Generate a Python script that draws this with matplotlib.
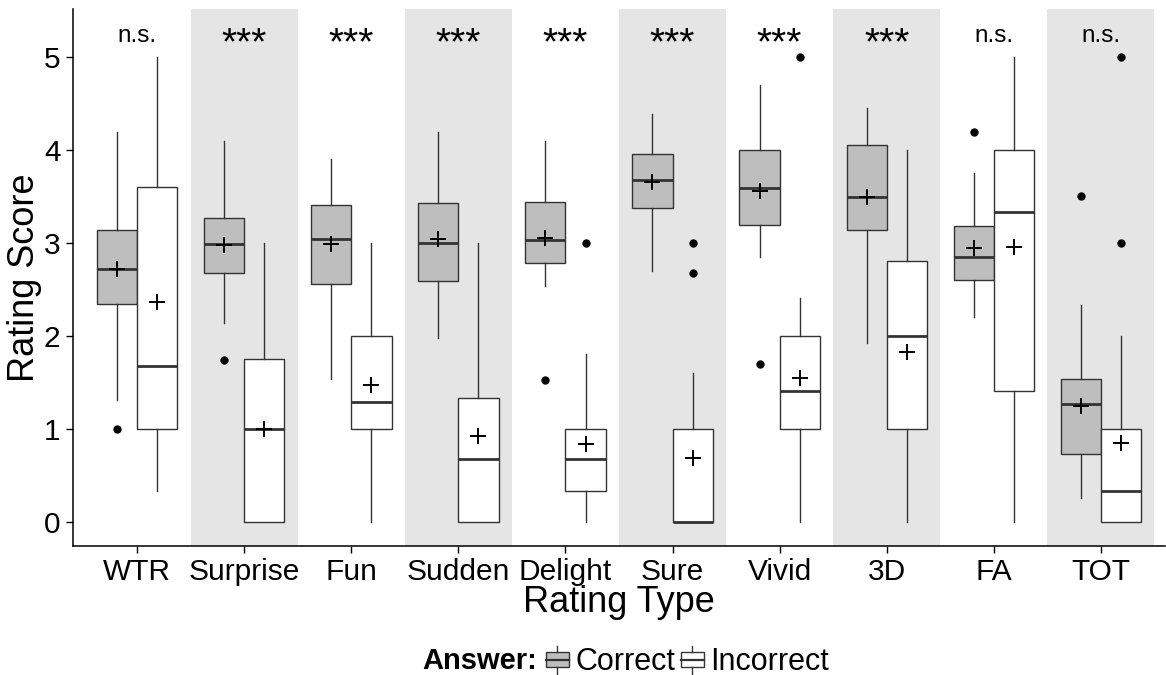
import numpy as np
import matplotlib
matplotlib.use('Agg')
import matplotlib.pyplot as plt
from matplotlib.patches import Rectangle, Patch
from matplotlib.lines import Line2D
from matplotlib.legend_handler import HandlerBase

plt.rcParams['font.family'] = ['Liberation Sans', 'DejaVu Sans']

# rating types on the x axis
categories = ['WTR', 'Surprise', 'Fun', 'Sudden', 'Delight',
              'Sure', 'Vivid', '3D', 'FA', 'TOT']
signif = ['n.s.', '***', '***', '***', '***', '***', '***', '***', 'n.s.', 'n.s.']

# box summaries, one entry per category
correct_q1 = [2.34, 2.67, 2.56, 2.59, 2.78, 3.37, 3.19, 3.14, 2.60, 0.73]
correct_med = [2.72, 2.98, 3.04, 3.00, 3.03, 3.67, 3.59, 3.49, 2.85, 1.26]
correct_q3 = [3.14, 3.27, 3.41, 3.43, 3.44, 3.95, 4.00, 4.05, 3.18, 1.53]
correct_lo = [1.31, 2.14, 1.53, 1.97, 2.53, 2.70, 2.85, 1.92, 2.20, 0.25]
correct_hi = [4.19, 4.09, 3.90, 4.19, 4.09, 4.38, 4.69, 4.45, 3.75, 2.33]
correct_mean = [2.72, 2.97, 2.98, 3.04, 3.05, 3.65, 3.55, 3.49, 2.94, 1.24]
correct_out = [[1.0], [1.74], [], [], [1.52], [], [1.70], [], [4.19], [3.50]]

incorrect_q1 = [1.00, 0.00, 1.00, 0.00, 0.33, 0.00, 1.00, 1.00, 1.40, 0.00]
incorrect_med = [1.67, 1.00, 1.29, 0.67, 0.67, 0.00, 1.40, 2.00, 3.33, 0.33]
incorrect_q3 = [3.60, 1.75, 2.00, 1.33, 1.00, 1.00, 2.00, 2.80, 4.00, 1.00]
incorrect_lo = [0.33, 0.00, 0.00, 0.00, 0.00, 0.00, 0.00, 0.00, 0.00, 0.00]
incorrect_hi = [5.00, 3.00, 3.00, 3.00, 1.80, 1.60, 2.40, 4.00, 5.00, 2.00]
incorrect_mean = [2.36, 1.00, 1.47, 0.92, 0.83, 0.68, 1.54, 1.82, 2.95, 0.85]
incorrect_out = [[], [], [], [], [3.0], [3.0, 2.67], [5.0], [], [], [5.0, 3.0]]

EDGE = '#333333'
FILL_CORRECT = '#BEBEBE'
FILL_INCORRECT = 'white'
BAND = '#E5E5E5'


def make_stats(q1, med, q3, lo, hi, mean, out):
    return [dict(q1=a, med=b, q3=c, whislo=d, whishi=e, mean=f, fliers=g)
            for a, b, c, d, e, f, g in zip(q1, med, q3, lo, hi, mean, out)]


class BoxKey(HandlerBase):
    '''Legend key drawn like a small boxplot.'''
    def create_artists(self, legend, orig_handle, xdescent, ydescent,
                       width, height, fontsize, trans):
        x0, y0 = -xdescent, -ydescent
        fc = orig_handle.get_facecolor()
        box = Rectangle((x0, y0 + 0.2 * height), width, 0.6 * height,
                        facecolor=fc, edgecolor=EDGE, lw=1.0, transform=trans)
        med = Line2D([x0, x0 + width], [y0 + 0.5 * height] * 2,
                     color=EDGE, lw=1.6, transform=trans)
        top = Line2D([x0 + width / 2] * 2, [y0 + 0.8 * height, y0 + 1.05 * height],
                     color=EDGE, lw=1.0, transform=trans)
        bot = Line2D([x0 + width / 2] * 2, [y0 - 0.05 * height, y0 + 0.2 * height],
                     color=EDGE, lw=1.0, transform=trans)
        return [box, med, top, bot]


fig = plt.figure(figsize=(11.66, 6.75), dpi=100)
ax = fig.add_axes([73 / 1166, 1 - 546 / 675, (1165 - 73) / 1166, (546 - 9) / 675])

pos = np.arange(1, len(categories) + 1)

# alternating background bands
for i in pos:
    if i % 2 == 0:
        ax.axvspan(i - 0.5, i + 0.5, color=BAND, lw=0, zorder=0)

common = dict(widths=0.375, showcaps=False, showmeans=True, patch_artist=True,
              whiskerprops=dict(color=EDGE, lw=1.0),
              medianprops=dict(color=EDGE, lw=2.0, solid_capstyle='butt'),
              meanprops=dict(marker='+', markersize=11, markeredgewidth=1.4,
                             markeredgecolor='black', markerfacecolor='black'),
              flierprops=dict(marker='o', markersize=5, markerfacecolor='black',
                              markeredgecolor='black'))

ax.bxp(make_stats(correct_q1, correct_med, correct_q3, correct_lo, correct_hi,
                  correct_mean, correct_out),
       positions=pos - 0.1875,
       boxprops=dict(facecolor=FILL_CORRECT, edgecolor=EDGE, lw=1.0), **common)
ax.bxp(make_stats(incorrect_q1, incorrect_med, incorrect_q3, incorrect_lo,
                  incorrect_hi, incorrect_mean, incorrect_out),
       positions=pos + 0.1875,
       boxprops=dict(facecolor=FILL_INCORRECT, edgecolor=EDGE, lw=1.0), **common)

for i, s in zip(pos, signif):
    if s == 'n.s.':
        ax.text(i, 5.155, s, ha='center', va='baseline', fontsize=17.5)
    else:
        ax.text(i, 5.03, s, ha='center', va='baseline', fontsize=28)

ax.set_xlim(0.4, 10.6)
ax.set_ylim(-0.2625, 5.5125)
ax.set_xticks(pos)
ax.set_xticklabels(categories)
ax.set_yticks([0, 1, 2, 3, 4, 5])
ax.tick_params(axis='both', labelsize=21.5, length=5, width=1.0, color='black', pad=4)
for side in ['top', 'right']:
    ax.spines[side].set_visible(False)
for side in ['left', 'bottom']:
    ax.spines[side].set_linewidth(1.1)
ax.set_xlabel('Rating Type', fontsize=26, labelpad=-1)
ax.set_ylabel('Rating Score', fontsize=26, labelpad=1)

fig.text(422 / 1166, 1 - 661 / 675, 'Answer:', fontsize=21, fontweight='bold',
         ha='left', va='center')
handles = [Patch(facecolor=FILL_CORRECT), Patch(facecolor=FILL_INCORRECT)]
fig.legend(handles, ['Correct', 'Incorrect'], handler_map={Patch: BoxKey()},
           loc='center left', bbox_to_anchor=(546 / 1166, 1 - 662 / 675),
           ncol=2, frameon=False, fontsize=22, handlelength=0.75,
           handleheight=0.9, handletextpad=0.2, columnspacing=0.2,
           borderpad=0, borderaxespad=0)

fig.savefig('out.png', dpi=100)
